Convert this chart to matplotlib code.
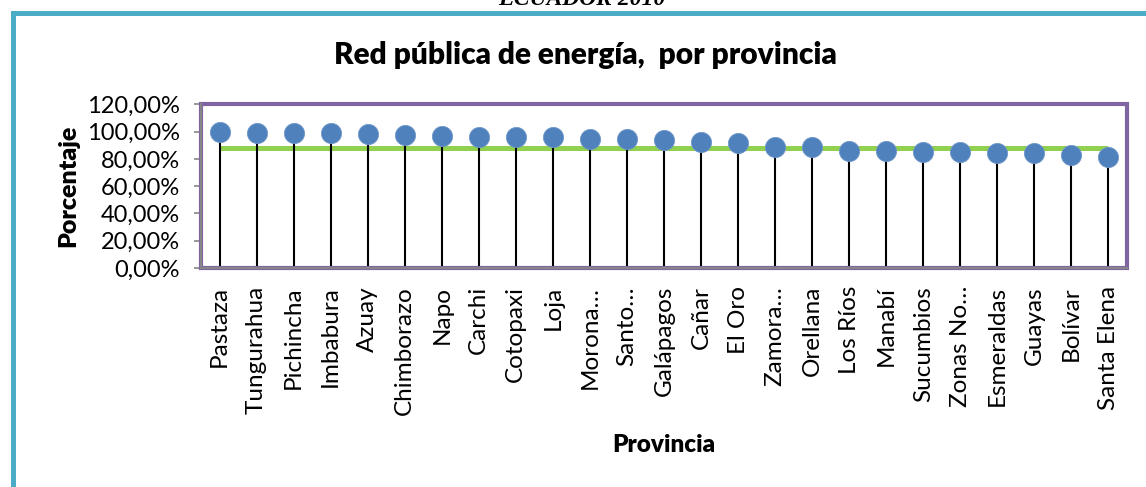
import matplotlib
matplotlib.use("Agg")
import matplotlib.pyplot as plt
from matplotlib.patches import Rectangle
from matplotlib.ticker import FuncFormatter, MultipleLocator

# Cobertura de la red publica de energia por provincia (censo 2010)
provincias = ["Pastaza", "Tungurahua", "Pichincha", "Imbabura", "Azuay",
              "Chimborazo", "Napo", "Carchi", "Cotopaxi", "Loja",
              "Morona…", "Santo…", "Galápagos", "Cañar", "El Oro",
              "Zamora…", "Orellana", "Los Ríos", "Manabí", "Sucumbios",
              "Zonas No…", "Esmeraldas", "Guayas", "Bolívar", "Santa Elena"]
porcentajes = [0.999, 0.994, 0.994, 0.989, 0.980,
               0.976, 0.971, 0.964, 0.964, 0.964,
               0.945, 0.945, 0.939, 0.925, 0.920,
               0.890, 0.886, 0.861, 0.857, 0.854,
               0.854, 0.842, 0.842, 0.827, 0.815]
promedio = 0.879

plt.rcParams['font.family'] = ['Lato', 'DejaVu Sans']

fig = plt.figure(figsize=(11.46, 4.87), dpi=100)
ax = fig.add_axes([201/1146, 1 - 268/487, 926/1146, 163.5/487])

x = list(range(len(provincias)))

# linea del promedio nacional
ax.plot([x[0], x[-1]], [promedio, promedio], color='#92D050', lw=3.6,
        solid_capstyle='butt', zorder=2)
# lineas verticales desde el eje hasta cada punto
ax.vlines(x, 0, porcentajes, color='black', lw=1.5, zorder=3)
ax.plot(x, porcentajes, 'o', color='#4F81BD', markersize=14.5,
        markeredgecolor='#6f97c9', markeredgewidth=0.6, zorder=4)

ax.set_xlim(-0.5, len(provincias) - 0.5)
ax.set_ylim(0, 1.2)
ax.yaxis.set_major_locator(MultipleLocator(0.2))
ax.yaxis.set_major_formatter(FuncFormatter(lambda v, _: f"{v*100:.2f}%".replace('.', ',')))
ax.set_xticks(x)
ax.set_xticklabels(provincias, rotation=90, ha='center', va='top', fontsize=17.5)
ax.tick_params(axis='x', length=0, pad=13)
ax.tick_params(axis='y', length=5, width=1.2, color='#868686', labelsize=17, pad=10)

for s in ['top', 'right']:
    ax.spines[s].set_visible(False)
for s in ['left', 'bottom']:
    ax.spines[s].set_color('#868686')
    ax.spines[s].set_linewidth(1.5)
    ax.spines[s].set_zorder(6)

# marco morado del area de trazado
ax.add_patch(Rectangle((0, 0), 1, 1, transform=ax.transAxes, fill=False,
                       edgecolor='#8064A2', lw=3, clip_on=False, zorder=5))

ax.set_ylabel("Porcentaje", fontsize=18, fontweight='heavy', labelpad=6)
ax.set_xlabel("Provincia", fontsize=17.5, fontweight='heavy', labelpad=14)

fig.text(585/1146, 1 - 55/487, "Red pública de energía,  por provincia",
         ha='center', va='center', fontsize=21.5, fontweight='heavy')

# titulo superior recortado
fig.text(582/1146, 1 - 5/487, "ECUADOR 2010", ha='center', va='baseline',
         fontsize=17, fontweight='bold', style='italic', family='Liberation Serif')

# borde celeste del grafico
fig.add_artist(Rectangle((12.5/1146, -0.2), 1.2, 1.2 - 12.5/487,
                         transform=fig.transFigure, fill=False,
                         edgecolor='#4BACC6', lw=3.6))

fig.savefig("out.png", dpi=100)
